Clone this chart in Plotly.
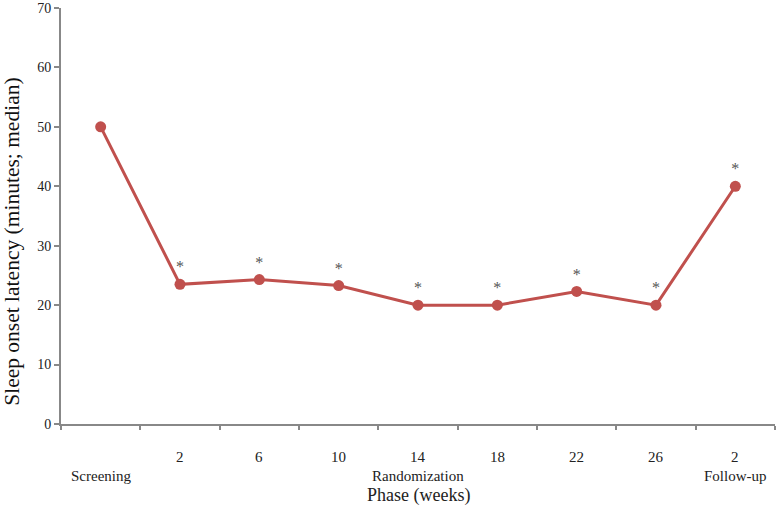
import plotly.graph_objects as go

categories = ["Screening", "2", "6", "10", "14", "18", "22", "26", "2 "]
values = [50, 23.5, 24.3, 23.3, 20, 20, 22.3, 20, 40]
markers = ["", "*", "*", "*", "*", "*", "*", "*", "*"]
tick_labels = ["", "2", "6", "10", "14", "18", "22", "26", "2"]
phase_labels = ["Screening", "", "", "", "Randomization", "", "", "", "Follow-up"]

FONT = "Liberation Serif"
RED = "#C0504D"
AXIS = "#888888"
TXT = "#222222"

fig = go.Figure()
fig.add_trace(go.Scatter(
    x=categories, y=values, mode="lines+markers+text",
    text=markers, textposition="top center",
    textfont=dict(family=FONT, size=16, color="#555555"),
    line=dict(color=RED, width=3),
    marker=dict(color=RED, size=11),
    showlegend=False, cliponaxis=False,
))

annotations = []
for i, t in enumerate(tick_labels):
    if t:
        annotations.append(dict(x=i, y=0, xref="x", yref="paper", text=t, showarrow=False,
                                yanchor="middle", yshift=-33,
                                font=dict(family=FONT, size=15, color=TXT)))
for i, t in enumerate(phase_labels):
    if t:
        annotations.append(dict(x=i, y=0, xref="x", yref="paper", text=t, showarrow=False,
                                yanchor="middle", yshift=-52,
                                font=dict(family=FONT, size=15, color=TXT)))
annotations.append(dict(x=0.5, y=0, xref="paper", yref="paper", text="Phase (weeks)",
                        showarrow=False, yanchor="middle", yshift=-71,
                        font=dict(family=FONT, size=18, color=TXT)))
annotations.append(dict(x=0, y=0.438, xref="paper", yref="paper",
                        text="Sleep onset latency (minutes; median)", textangle=-90,
                        showarrow=False, xanchor="center", yanchor="middle", xshift=-49,
                        font=dict(family=FONT, size=21.5, color="#111111")))
fig.update_layout(
    width=776, height=505,
    margin=dict(l=61, r=1, t=5, b=81),
    plot_bgcolor="white", paper_bgcolor="white",
    annotations=annotations,
    xaxis=dict(
        type="category", categoryorder="array", categoryarray=categories,
        range=[-0.5, 8.5], showgrid=False, zeroline=False,
        showline=True, linecolor=AXIS, linewidth=2,
        ticks="outside", tickson="boundaries", ticklen=4, tickcolor=AXIS, tickwidth=2,
        showticklabels=False,
    ),
    yaxis=dict(
        range=[0, 70], dtick=10, showgrid=False, zeroline=False,
        showline=True, linecolor=AXIS, linewidth=2,
        ticks="outside", ticklen=5, tickcolor=AXIS, tickwidth=2,
        ticklabeloverflow="allow",
        tickfont=dict(family=FONT, size=14, color=TXT),
    ),
)
fig.write_html("out.html", config={"displayModeBar": False},
               post_script="document.body.style.margin='0';")
